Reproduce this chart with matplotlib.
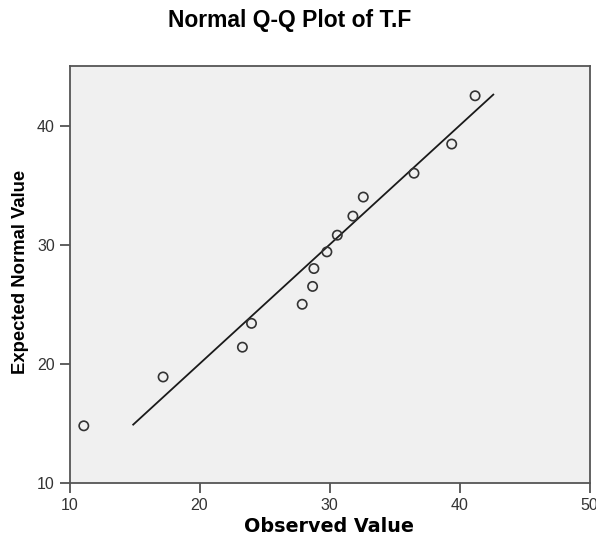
import numpy as np
import matplotlib.pyplot as plt

# observed values of T.F and their expected normal values
observed = [11.1, 17.2, 23.3, 24.0, 27.9, 28.7, 28.8, 29.8, 30.6, 31.8, 32.6, 36.5, 39.4, 41.2]
expected = [14.8, 18.9, 21.4, 23.4, 25.0, 26.5, 28.0, 29.4, 30.8, 32.4, 34.0, 36.0, 38.45, 42.5]
# reference line end points
line_x = [14.9, 42.6]
line_y = [14.9, 42.6]

x_ticks = [10, 20, 30, 40, 50]
y_ticks = [10, 20, 30, 40]

fig = plt.figure(figsize=(5.96, 5.4), dpi=100)
ax = fig.add_axes([69.5/596, 1-483/540, (589.5-69.5)/596, (483-66)/540])
ax.set_facecolor('#f0f0f0')

ax.plot(line_x, line_y, color='#1a1a1a', lw=1.3)
ax.scatter(observed, expected, s=45, facecolors='none', edgecolors='#333333', linewidths=1.2, zorder=3)

ax.set_xlim(10, 50)
ax.set_ylim(10, 45)
ax.set_xticks(x_ticks)
ax.set_yticks(y_ticks)
ax.tick_params(length=7, width=1.2, color='#444444', labelsize=11.5, labelcolor='#333333')
for lab in ax.get_xticklabels() + ax.get_yticklabels():
    lab.set_family('Liberation Sans')
for s in ax.spines.values():
    s.set_color('#555555')
    s.set_linewidth(1.3)

fig.text(290/596, 1-21/540, 'Normal Q-Q Plot of T.F', ha='center', va='center',
         fontsize=16.5, fontweight='bold', family='Liberation Sans')
fig.text(329/596, 1-527/540, 'Observed Value', ha='center', va='center',
         fontsize=13.8, fontweight='bold', family='DejaVu Sans')
fig.text(21/596, 1-272/540, 'Expected Normal Value', ha='center', va='center', rotation=90,
         fontsize=13.3, fontweight='bold', family=['Liberation Sans Narrow', 'Liberation Sans'])

fig.savefig('out.png', dpi=100)
